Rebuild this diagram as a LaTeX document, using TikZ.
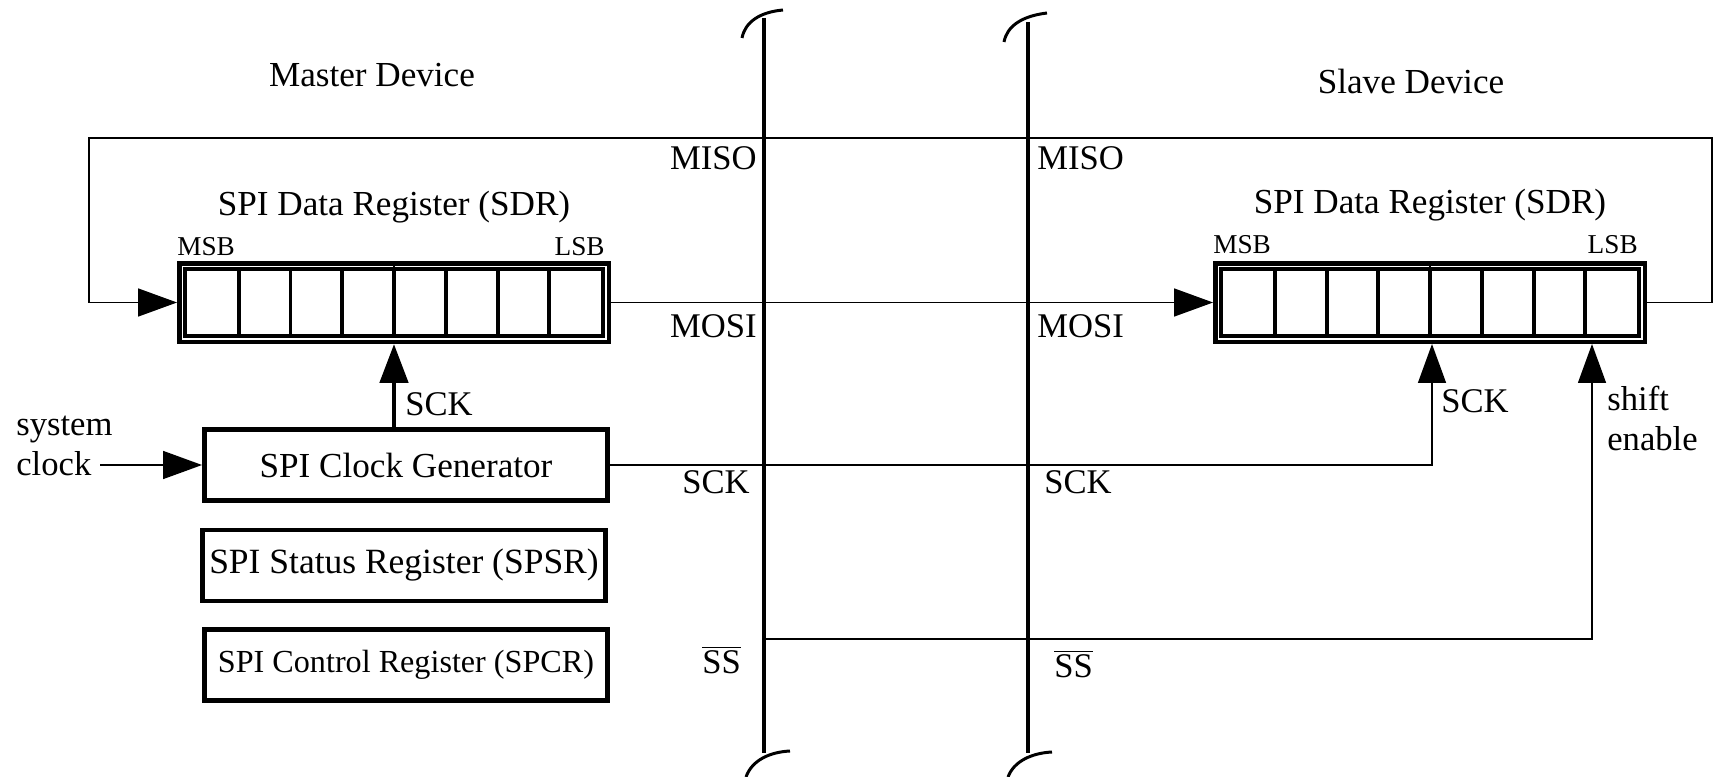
\documentclass[tikz,border=0pt]{standalone}
\usepackage{fontspec}
\setmainfont{Liberation Serif}
\usetikzlibrary{arrows.meta}
\newcommand{\regframe}{%
  \fill[black] (-217,-41.5) rectangle (217,41.5);
  \fill[white] (-212.5,-37) rectangle (212.5,37);
  \fill[black] (-211,-35.5) rectangle (211,35.5);
  \fill[white] (-207,-31.5) rectangle (207,31.5);
  \foreach \k in {1,...,7} {\draw[line width=2.27pt] ({-207+51.75*\k},-31.5) -- ({-207+51.75*\k},31.5);}
  \draw[line width=1.4pt] (0,-37) -- (0,-31.5);
}
\begin{document}
\begin{tikzpicture}[x=0.02cm, y=-0.02cm,
  thinline/.style={line width=0.85pt},
  arr/.style={thinline, -{Triangle[length=0.78cm,width=0.56cm]}},
  box/.style={draw, line width=2.83pt, inner sep=0pt, minimum width=8.06cm, minimum height=1.42cm},
  regnode/.style={inner sep=0pt, outer sep=0pt, minimum width=8.68cm, minimum height=1.66cm},
  lab/.style={inner sep=0pt, font=\fontsize{19.7}{23}\selectfont},
  big/.style={inner sep=0pt, font=\fontsize{20}{24}\selectfont},
  small/.style={inner sep=0pt, font=\fontsize{15.5}{18}\selectfont},
  bar/.style={line width=2.83pt},
  hook/.style={line width=1.7pt},
]
\useasboundingbox (0,0) rectangle (1714,777);

% bars
\draw[bar] (764,18) -- (764,753);
\draw[hook] (742,38) .. controls (745,22) and (760,12) .. (783,10);
\draw[hook] (790,751) .. controls (770,752) and (752,760) .. (746,777);
\draw[bar, line width=2.4pt] (1028,22) -- (1028,753);
\draw[hook] (1004,42) .. controls (1007,26) and (1022,16) .. (1047,13);
\draw[hook] (1052,752) .. controls (1032,753) and (1014,761) .. (1008,777);

% registers
\node[regnode] (msdr) at (394,302.5) {};
\node[regnode] (ssdr) at (1430,302.5) {};
\begin{scope}[shift={(msdr.center)}]\regframe\end{scope}
\begin{scope}[shift={(ssdr.center)}]\regframe\end{scope}

% titles
\node[big, anchor=base] (mdev) at (372,87) {Master Device};
\node[big, anchor=base] (sdev) at (1411,93) {Slave Device};
\node[big, anchor=base] (mtitle) at (394,215) {SPI Data Register (SDR)};
\node[big, anchor=base] (stitle) at (1430,213) {SPI Data Register (SDR)};
\node[small, anchor=base west] (mmsb) at (177,255) {MSB};
\node[small, anchor=base east] (mlsb) at (605,255) {LSB};
\node[small, anchor=base west] (smsb) at (1213,253) {MSB};
\node[small, anchor=base east] (slsb) at (1638,253) {LSB};

% boxes
\node[box, font=\fontsize{20}{24}\selectfont] (cg) at (406,465) {SPI Clock Generator};
\node[box, font=\fontsize{20.2}{24}\selectfont] (spsr) at (404,565.5) {SPI Status Register (SPSR)};
\node[box, font=\fontsize{18.3}{22}\selectfont] (spcr) at (406,665) {SPI Control Register (SPCR)};

% labels
\node[lab, anchor=base east] (misol) at (757,170) {MISO};
\node[lab, anchor=base west] (misor) at (1037,170) {MISO};
\node[lab, anchor=base east] (mosil) at (757,337) {MOSI};
\node[lab, anchor=base west] (mosir) at (1037,337) {MOSI};
\node[lab, anchor=base east] (sckl) at (750,493) {SCK};
\node[lab, anchor=base west] (sckr) at (1044,493) {SCK};
\node[lab, anchor=base west] (ssl) at (702,673) {$\overline{\hbox{SS}}$};
\node[lab, anchor=base west] (ssr) at (1054,677) {$\overline{\hbox{SS}}$};
\node[lab, anchor=base west] (sys) at (16,435) {system};
\node[lab, anchor=base west] (clk) at (16,475) {clock};
\node[lab, anchor=base west] (msck) at (405,415) {SCK};
\node[lab, anchor=base west] (ssck) at (1441,412) {SCK};
\node[lab, anchor=base west] (shift) at (1607,410) {shift};
\node[lab, anchor=base west] (enable) at (1607,450) {enable};

% connectors
\coordinate (ne) at (1712,138);
\coordinate (nw) at (89,138);
\draw[arr] (ssdr.east) -- (ssdr.east -| ne) -- (ne) -- (nw) -- (nw |- msdr.west) -- (msdr.west);
\draw[arr] (msdr.east) -- (ssdr.west);
\draw[arr, line width=2.83pt] (cg.north -| msdr.south) -- (msdr.south);
\coordinate (sckc) at (1432,463);
\draw[arr] (cg.east) -- (cg.east -| sckc) -- (sckc |- ssdr.south);
\coordinate (ssa) at (764,639);
\coordinate (ssc) at (1592,639);
\draw[arr] (ssa) -- (ssc) -- (ssc |- ssdr.south);
\coordinate (sysin) at (100,465);
\draw[arr] (sysin) -- (cg.west);
\end{tikzpicture}
\end{document}
